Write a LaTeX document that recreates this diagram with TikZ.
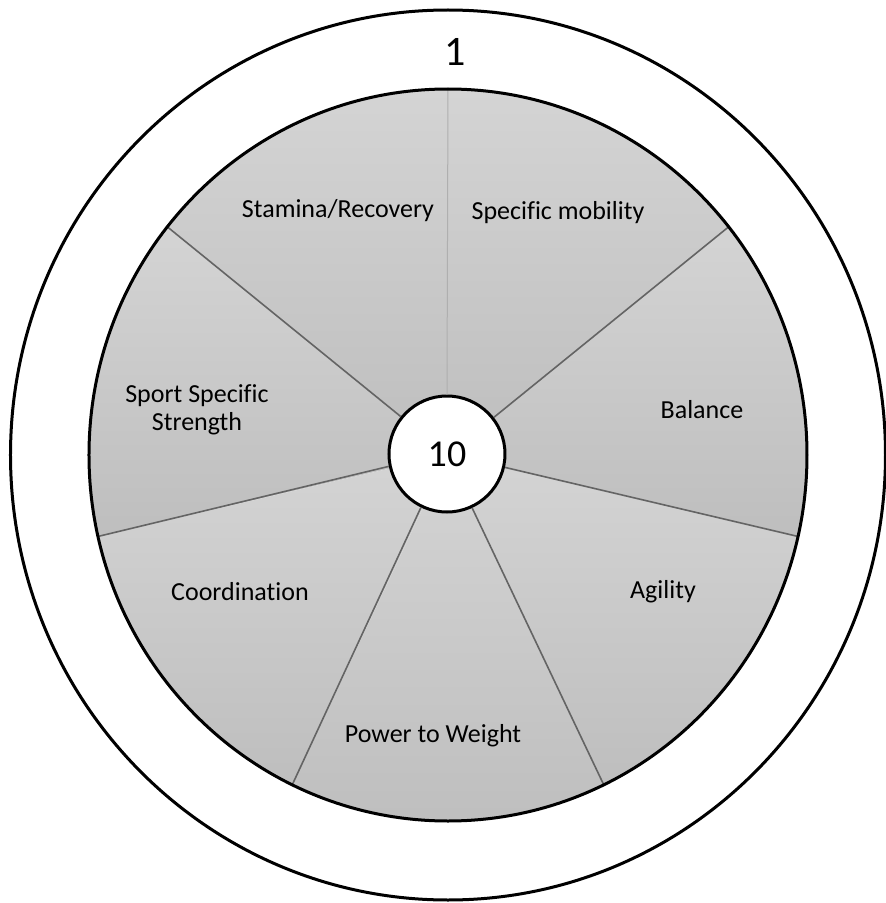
\documentclass[tikz,border=0pt]{standalone}
\usepackage{fontspec}
\setmainfont{Carlito}[Ligatures=NoCommon]
\usepackage{tikz}
\usetikzlibrary{shapes}
\definecolor{sectortop}{RGB}{212,212,212}
\definecolor{sectorbottom}{RGB}{190,190,190}
\definecolor{dividergray}{RGB}{100,100,100}
\tikzstyle{sector} = [top color=sectortop, bottom color=sectorbottom]
\tikzstyle{divider} = [draw=dividergray, line width=1.6pt]
\tikzstyle{rim} = [draw=black, line width=3pt]
\tikzstyle{area} = [align=center, text=black, font=\fontsize{26}{28}\selectfont]
\tikzstyle{hub} = [
    circle, minimum size=116pt, inner sep=0pt, draw=black, line width=3pt,
    fill=white, font=\fontsize{38}{40}\selectfont]

\begin{document}
\begin{tikzpicture}[x=1pt, y=1pt]
\useasboundingbox (-448,-448) rectangle (438,455);

% the seven sectors
\shade[sector] (0,0) -- (90:359 and 366) arc[start angle=90, end angle=141.43, x radius=359, y radius=366] -- cycle;
\shade[sector] (0,0) -- (141.43:359 and 366) arc[start angle=141.43, end angle=192.86, x radius=359, y radius=366] -- cycle;
\shade[sector] (0,0) -- (192.86:359 and 366) arc[start angle=192.86, end angle=244.29, x radius=359, y radius=366] -- cycle;
\shade[sector] (0,0) -- (244.29:359 and 366) arc[start angle=244.29, end angle=295.71, x radius=359, y radius=366] -- cycle;
\shade[sector] (0,0) -- (295.71:359 and 366) arc[start angle=295.71, end angle=347.14, x radius=359, y radius=366] -- cycle;
\shade[sector] (0,0) -- (347.14:359 and 366) arc[start angle=347.14, end angle=398.57, x radius=359, y radius=366] -- cycle;
\shade[sector] (0,0) -- (38.57:359 and 366) arc[start angle=38.57, end angle=90, x radius=359, y radius=366] -- cycle;

\node (hub) [hub] at (-1,1) {10};

\coordinate (rim-stamina) at (90:359 and 366);
\coordinate (rim-strength) at (141.43:359 and 366);
\coordinate (rim-coordination) at (192.86:359 and 366);
\coordinate (rim-power) at (244.29:359 and 366);
\coordinate (rim-agility) at (295.71:359 and 366);
\coordinate (rim-balance) at (347.14:359 and 366);
\coordinate (rim-mobility) at (38.57:359 and 366);

\draw [draw={rgb,255:red,175;green,175;blue,175}, line width=1pt] (hub.90) -- (rim-stamina);
\draw [divider] (hub.141.43) -- (rim-strength);
\draw [divider] (hub.192.86) -- (rim-coordination);
\draw [divider] (hub.244.29) -- (rim-power);
\draw [divider] (hub.295.71) -- (rim-agility);
\draw [divider] (hub.347.14) -- (rim-balance);
\draw [divider] (hub.38.57) -- (rim-mobility);

\draw [rim] (0,0) ellipse [x radius=359, y radius=366];
\draw [rim] (0,0) ellipse [x radius=437.5, y radius=445];

\node (stamina) [area] at (-110,244) {Stamina/Recovery};
\node (mobility) [area] at (110,242) {Specific mobility};
\node (balance) [area] at (254,45) {Balance};
\node (strength) [area] at (-251,45) {Sport Specific\\Strength};
\node (coordination) [area] at (-208,-137) {Coordination};
\node (agility) [area] at (215,-137) {Agility};
\node (power) [area] at (-15,-281) {Power to Weight};
\node (outer-level) [font=\fontsize{42}{44}\selectfont] at (7,403) {1};
\end{tikzpicture}
\end{document}
